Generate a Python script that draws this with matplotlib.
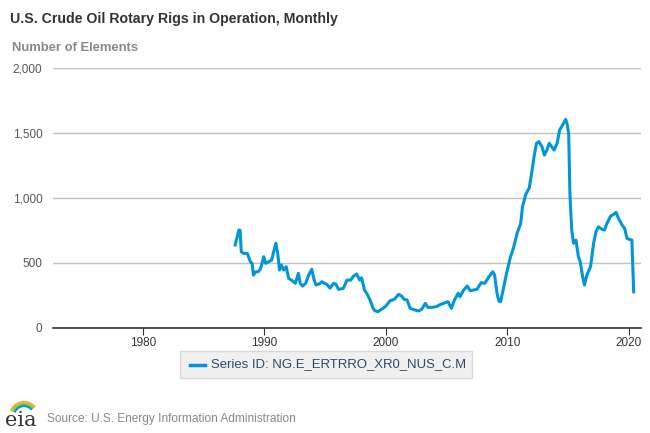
import matplotlib.pyplot as plt
from matplotlib.patches import Arc, FancyBboxPatch
from matplotlib.ticker import FuncFormatter

# Readings (decimal year, number of rigs)
years = [1987.6, 1987.9, 1988.0, 1988.1, 1988.3, 1988.6, 1988.7, 1988.85, 1988.99,
         1989.1, 1989.3, 1989.5, 1989.7, 1989.95, 1990.1, 1990.35, 1990.6, 1990.8,
         1990.95, 1991.1, 1991.25, 1991.4, 1991.6, 1991.8, 1992.0, 1992.3, 1992.55,
         1992.8, 1992.95, 1993.15, 1993.4, 1993.65, 1993.9, 1994.1, 1994.25, 1994.5,
         1994.75, 1994.95, 1995.15, 1995.4, 1995.7, 1995.9, 1996.1, 1996.5, 1996.8,
         1997.1, 1997.35, 1997.6, 1997.85, 1998.0, 1998.25, 1998.5, 1998.7, 1998.95,
         1999.1, 1999.35, 1999.55, 1999.75, 1999.95, 2000.35, 2000.7, 2001.05, 2001.3,
         2001.5, 2001.75, 2002.0, 2002.4, 2002.7, 2002.95, 2003.25, 2003.45, 2003.8,
         2004.15, 2004.5, 2004.75, 2005.1, 2005.4, 2005.65, 2005.95, 2006.1, 2006.4,
         2006.7, 2006.95, 2007.2, 2007.5, 2007.85, 2008.15, 2008.45, 2008.8, 2008.95,
         2009.15, 2009.3, 2009.45, 2009.65, 2009.95, 2010.25, 2010.5, 2010.8, 2011.1,
         2011.25, 2011.5, 2011.7, 2011.8, 2012.0, 2012.2, 2012.4, 2012.6, 2012.85,
         2013.05, 2013.25, 2013.45, 2013.65, 2013.85, 2014.1, 2014.3, 2014.5, 2014.8,
         2014.9, 2015.05, 2015.15, 2015.3, 2015.45, 2015.65, 2015.85, 2016.0, 2016.2,
         2016.35, 2016.55, 2016.85, 2017.1, 2017.3, 2017.5, 2017.8, 2018.0, 2018.2,
         2018.5, 2018.75, 2018.95, 2019.15, 2019.45, 2019.65, 2019.85, 2020.05, 2020.25,
         2020.4]
rigs = [635, 750, 748, 583, 570, 570, 545, 506, 494,
        404, 429, 430, 455, 545, 494, 506, 519, 596,
        648, 570, 442, 481, 442, 468, 378, 360, 340,
        417, 340, 319, 340, 404, 448, 365, 327, 335,
        352, 340, 332, 303, 340, 332, 294, 301, 365,
        365, 396, 411, 365, 383, 288, 250, 212, 148,
        129, 122, 135, 148, 160, 206, 217, 255, 242,
        217, 212, 148, 135, 127, 140, 186, 155, 155,
        160, 178, 186, 199, 148, 212, 263, 237, 288,
        319, 283, 288, 294, 345, 340, 386, 429, 404,
        263, 204, 199, 288, 423, 540, 610, 724, 801,
        929, 1019, 1058, 1071, 1186, 1314, 1417, 1430, 1391,
        1327, 1365, 1417, 1391, 1365, 1417, 1519, 1550, 1601,
        1575, 1494, 1032, 750, 648, 673, 545, 506, 391,
        327, 404, 468, 648, 737, 775, 755, 750, 801,
        857, 870, 886, 840, 788, 763, 686, 678, 673,
        275]

x_ticks = [1980, 1990, 2000, 2010, 2020]
y_ticks = [0, 500, 1000, 1500, 2000]

title = "U.S. Crude Oil Rotary Rigs in Operation, Monthly"
units = "Number of Elements"
series_label = "Series ID: NG.E_ERTRRO_XR0_NUS_C.M"
source = "Source: U.S. Energy Information Administration"

plt.rcParams['font.family'] = ['Liberation Sans', 'DejaVu Sans']

fig = plt.figure(figsize=(6.5, 4.33), dpi=100)
ax = fig.add_axes([0.0815, 0.2436, 0.9046, 0.6004])

ax.plot(years, rigs, color='#0096d7', linewidth=2.2, solid_joinstyle='round')

ax.set_xlim(1972.6, 2021.0)
ax.set_ylim(0, 2000)
ax.set_xticks(x_ticks)
ax.set_yticks(y_ticks)
ax.yaxis.set_major_formatter(FuncFormatter(lambda v, p: f"{int(v):,}"))
ax.grid(axis='y', color='#c0c0c0', linewidth=1)
ax.set_axisbelow(True)
for s in ['top', 'right', 'left']:
    ax.spines[s].set_visible(False)
ax.spines['bottom'].set_color('#333333')
ax.spines['bottom'].set_linewidth(1.2)
ax.tick_params(axis='x', direction='out', length=5, color='#333333',
               labelsize=8.5, labelcolor='#333333', pad=2)
ax.tick_params(axis='y', length=0, labelsize=8.5, labelcolor='#555555', pad=7.5)

fig.text(0.016, 0.955, title, fontsize=10.2, fontweight='bold', color='#333333',
         va='center', ha='left')
fig.text(0.019, 0.890, units, fontsize=9.4, fontweight='bold', color='#888888',
         va='center', ha='left')

# legend box
fig.patches.append(FancyBboxPatch((180 / 650, 1 - 378 / 433), 292 / 650, 27 / 433,
                                  boxstyle='square,pad=0', transform=fig.transFigure,
                                  facecolor='#f0f0f0', edgecolor='#d8d8d8', linewidth=1))
fig.add_artist(plt.Line2D([190 / 650, 205 / 650], [1 - 364.5 / 433] * 2,
                          transform=fig.transFigure, color='#0096d7', linewidth=2.5))
fig.text(211 / 650, 1 - 364.5 / 433, series_label, fontsize=9.45, color='#2b4a6a',
         va='center', ha='left')

# eia logo
fig.text(5 / 650, 1 - 420 / 433, "eia", fontsize=15, family='DejaVu Serif',
         color='#333333', va='center', ha='left')
for r, c in [(28, '#f0b323'), (24, '#8dc63f'), (20, '#0096d7')]:
    fig.add_artist(Arc((24 / 650, 1 - 416 / 433), r / 650, r / 433, theta1=50, theta2=150,
                       transform=fig.transFigure, color=c, linewidth=1.6))
fig.text(47 / 650, 1 - 419 / 433, source, fontsize=8.6, color='#888888',
         va='center', ha='left')

fig.savefig('out.png', dpi=100)
